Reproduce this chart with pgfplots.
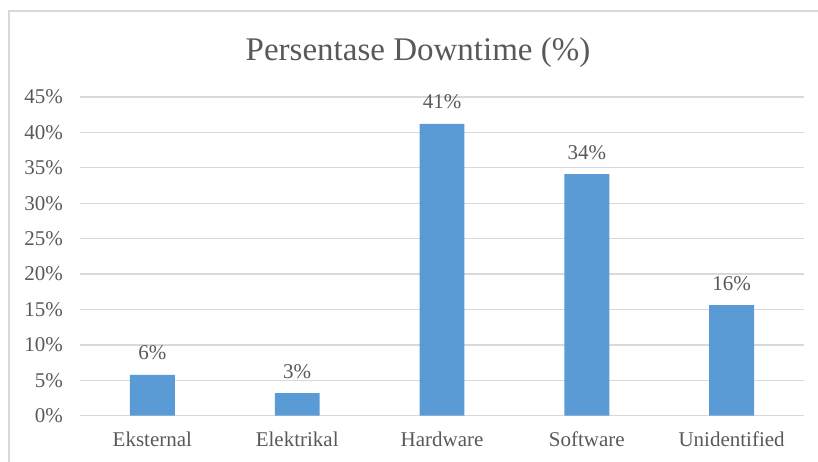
\documentclass[border=0pt]{standalone}
\usepackage{pgfplots}
\pgfplotsset{compat=1.18}
\usepackage{fontspec}
\setmainfont{Liberation Serif}
\definecolor{barblue}{HTML}{5B9BD5}
\definecolor{gridgray}{HTML}{D9D9D9}
\definecolor{txtgray}{HTML}{595959}
\definecolor{framegray}{HTML}{D9D9D9}
\begin{document}
\begin{tikzpicture}[x=1pt,y=1pt]
\useasboundingbox (0,0) rectangle (818,462);
\draw[framegray, line width=2pt] (9,0) -- (9,451) -- (818,451);
\node[anchor=base, text=txtgray, font=\fontsize{33}{38}\selectfont] at (418,401) {Persentase Downtime (\%)};
\begin{axis}[
  at={(80pt,46.3pt)}, anchor=south west,
  scale only axis, width=724pt, height=318.7pt,
  xmin=-0.5, xmax=4.5, ymin=0, ymax=45,
  ytick={0,5,...,45},
  xtick={0,1,2,3,4},
  xticklabels={Eksternal,Elektrikal,Hardware,Software,Unidentified},
  /pgf/number format/assume math mode=true,
  yticklabel={\pgfmathprintnumber{\tick}\%},
  ymajorgrids, major grid style={gridgray, line width=1.3pt},
  axis line style={draw=none},
  major tick length=0pt,
  tick label style={text=txtgray, font=\fontsize{21}{25}\selectfont},
  yticklabel style={anchor=east, inner sep=0pt, xshift=-17pt},
  xticklabel style={anchor=base, inner sep=0pt, yshift=-31pt},
  ybar, bar width=0.31,
  nodes near coords={\pgfmathprintnumber[fixed,precision=0]{\pgfplotspointmeta}\%},
  every node near coord/.append style={anchor=base, yshift=15pt, inner sep=0pt, text=txtgray, font=\fontsize{21}{25}\selectfont},
]
\addplot[fill=barblue, draw=none] coordinates {(0,5.75) (1,3.2) (2,41.2) (3,34.1) (4,15.6)};
\end{axis}
\end{tikzpicture}
\end{document}
